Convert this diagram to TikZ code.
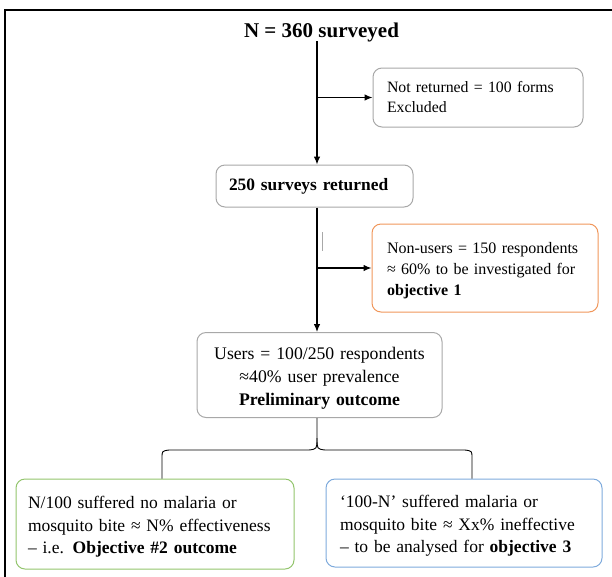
\documentclass[tikz,border=0pt]{standalone}
\usepackage{fontspec}
\setmainfont{Liberation Serif}
\usetikzlibrary{arrows.meta}
\definecolor{boxgray}{HTML}{A8A8A8}
\definecolor{boxorange}{HTML}{F0965A}
\definecolor{boxgreen}{HTML}{92C46C}
\definecolor{boxblue}{HTML}{7EAADC}
\newcommand{\lift}[1]{\rule{0pt}{#1}}
\begin{document}
\begin{tikzpicture}[x=1pt,y=-1pt,>={Latex[length=8pt,width=6.5pt]},
	box/.style={draw=boxgray,rounded corners=9pt,line width=1pt,inner ysep=0pt,
		font=\fontsize{16}{21}\selectfont,align=left},
	line/.style={line width=1.1pt}]
	\useasboundingbox (0,0) rectangle (612,576);
	\clip (0,0) rectangle (612,576);
	\draw[line width=1.5pt] (5,620) -- (5,10) -- (640,10);

	\node[inner sep=0pt,font=\fontsize{21}{24}\selectfont\bfseries] (title) at (321.5,32) {N = 360 surveyed};
	\node[box,text width=182pt,inner xsep=14pt,minimum height=59pt,font=\fontsize{15.8}{20}\selectfont] (notret) at (478,97.5) {Not returned = 100 forms\\Excluded};
	\node[box,text width=171pt,inner xsep=13pt,minimum height=42pt,font=\fontsize{17.4}{21}\selectfont\bfseries] (ret) at (314.5,186) {250 surveys returned};
	\node[box,draw=boxorange,text width=196pt,inner xsep=15pt,minimum height=88pt] (nonusers) at (485,268) {\lift{17pt}Non-users = 150 respondents\\≈ 60\% to be investigated for\\\textbf{objective 1}};
	\node[box,text width=221pt,inner xsep=12pt,minimum height=85pt,align=center,font=\fontsize{17.7}{23}\selectfont] (users) at (319.5,375) {\lift{18.3pt}Users = 100/250 respondents\\≈40\% user prevalence\\\textbf{Preliminary outcome}};
	\node[box,draw=boxgreen,text width=254pt,inner xsep=12pt,minimum height=90pt,font=\fontsize{17.5}{22.5}\selectfont] (noharm) at (155,524) {\lift{18.1pt}N/100 suffered no malaria or\\mosquito bite ≈ N\% effectiveness\\– i.e. \textbf{Objective \#2 outcome}};
	\node[box,draw=boxblue,text width=248pt,inner xsep=14pt,minimum height=88pt,font=\fontsize{17.5}{22.5}\selectfont] (harm) at (464,523) {\lift{18pt}‘100-N’ suffered malaria or\\mosquito bite ≈ Xx\% ineffective\\– to be analysed for \textbf{objective 3}};

	\coordinate (top) at (317,41);
	\draw[line,->] (top) -- (top |- ret.north);
	\draw[line,->] (top |- notret.west) -- (notret.west);
	\draw[line,->] (ret.south -| top) -- (users.north -| top);
	\draw[line,->] (nonusers.west -| top) -- (nonusers.west);
	\draw[boxgray,line width=1pt] (322,232) -- (322,251);

	% brace under the users box
	\coordinate (tip) at (317,438);
	\coordinate (lb) at (noharm.north -| 162,0);
	\coordinate (rb) at (harm.north -| 472,0);
	\draw[line width=0.9pt] (users.south -| tip) -- (tip) .. controls (317,449) .. (325,450) -- (465,450) .. controls (472,451) .. (472,458) -- (rb);
	\draw[line width=0.9pt] (tip) .. controls (317,449) .. (309,450) -- (169,450) .. controls (162,451) .. (162,458) -- (lb);
\end{tikzpicture}
\end{document}
